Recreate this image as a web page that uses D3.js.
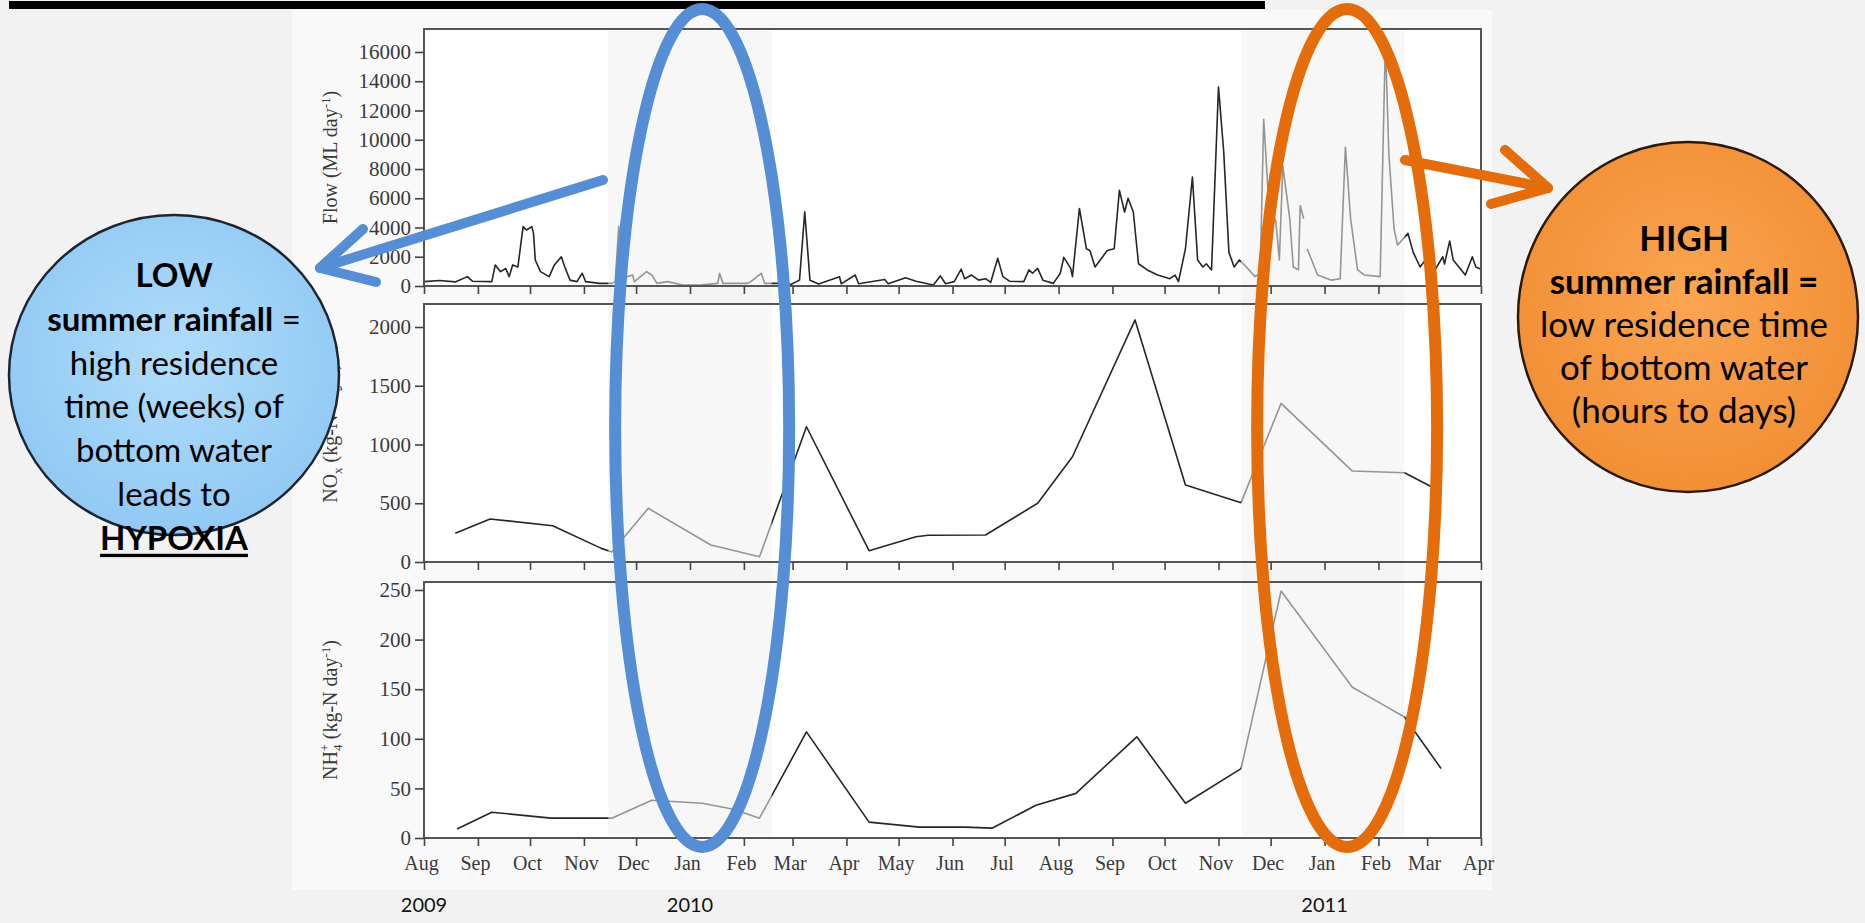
<!DOCTYPE html>
<html lang="en">
<head>
<meta charset="UTF-8">
<title>Flow, NOx and NH4 loads 2009-2011</title>
<script src="https://d3js.org/d3.v7.min.js"></script>
<style>
  body { margin: 0; background: #f3f3f3; overflow: hidden; }
  svg { display: block; }
</style>
</head>
<body>
<div id="chart"></div>
<script>
// values
var flowDates = ["2009-08-01","2009-08-10","2009-08-19","2009-08-26","2009-08-29","2009-09-09","2009-09-11","2009-09-14","2009-09-17","2009-09-19",
  "2009-09-21","2009-09-24","2009-09-27","2009-09-29","2009-10-02","2009-10-03","2009-10-04","2009-10-07","2009-10-12","2009-10-15",
  "2009-10-19","2009-10-21","2009-10-24","2009-10-28","2009-10-31","2009-11-02","2009-11-10","2009-11-17","2009-11-19","2009-11-21",
  "2009-11-23","2009-11-26","2009-11-29","2009-11-30","2009-12-07","2009-12-10","2009-12-13","2009-12-19","2009-12-28","2010-01-07",
  "2010-01-17","2010-01-18","2010-01-20","2010-02-03","2010-02-05","2010-02-11","2010-02-13","2010-02-20","2010-02-28","2010-03-05",
  "2010-03-08","2010-03-11","2010-03-16","2010-03-28","2010-03-29","2010-04-06","2010-04-08","2010-04-23","2010-04-25","2010-05-05",
  "2010-05-11","2010-05-21","2010-05-25","2010-05-28","2010-06-02","2010-06-06","2010-06-08","2010-06-12","2010-06-16","2010-06-20",
  "2010-06-23","2010-06-27","2010-06-30","2010-07-04","2010-07-12","2010-07-15","2010-07-17","2010-07-20","2010-07-23","2010-07-29",
  "2010-08-02","2010-08-04","2010-08-08","2010-08-09","2010-08-13","2010-08-17","2010-08-19","2010-08-22","2010-08-25","2010-08-29",
  "2010-09-02","2010-09-05","2010-09-08","2010-09-10","2010-09-13","2010-09-16","2010-09-21","2010-09-27","2010-10-04","2010-10-07",
  "2010-10-09","2010-10-13","2010-10-17","2010-10-20","2010-10-23","2010-10-25","2010-10-28","2010-11-01","2010-11-04","2010-11-07",
  "2010-11-10","2010-11-13","2010-11-17","2010-11-22","2010-11-25","2010-11-27","2010-11-30","2010-12-04","2010-12-06","2010-12-08",
  "2010-12-12","2010-12-14","2010-12-17","2010-12-18","2010-12-20","2010-12-21","2010-12-22","2010-12-28","2011-01-05","2011-01-10",
  "2011-01-13","2011-01-16","2011-01-20","2011-01-24","2011-02-02","2011-02-05","2011-02-07","2011-02-10","2011-02-12","2011-02-18",
  "2011-02-21","2011-02-25","2011-02-28","2011-03-05","2011-03-10","2011-03-11","2011-03-14","2011-03-16","2011-03-23","2011-03-27",
  "2011-03-29","2011-04-01"];
var flowValues = [300,380,280,640,320,300,1440,980,1200,640,
  1440,1300,4060,3830,4060,3600,1780,980,640,1440,
  2000,1300,400,300,870,300,180,180,300,4060,
  870,640,750,300,980,750,180,300,70,70,
  180,870,180,180,300,870,180,180,100,400,
  5080,400,130,640,150,750,150,450,150,560,
  320,70,690,150,300,1150,500,750,400,500,
  250,1900,640,320,300,1100,870,1200,400,180,
  870,1960,1200,640,5300,2550,2430,1300,1780,2430,
  2550,6540,5060,6000,5060,1520,1100,750,500,750,
  300,2550,7450,1780,1300,1520,1100,13600,9200,2300,
  1300,1780,1300,640,870,11400,5500,4400,1780,8200,
  4600,1300,1100,5500,4600,null,2550,750,400,500,
  9500,4600,1100,750,640,16700,9000,3900,2800,3600,
  2300,1300,1780,980,2000,1500,3080,1780,750,2000,
  1300,1150];

var noxDates = ["2009-08-19","2009-09-08","2009-10-14","2009-11-11","2009-11-17","2009-12-08","2010-01-13","2010-02-10","2010-03-09","2010-04-14",
  "2010-05-11","2010-05-18","2010-06-20","2010-07-20","2010-08-09","2010-09-14","2010-10-13","2010-11-14","2010-12-07","2011-01-17",
  "2011-02-16","2011-03-09"];
var noxValues = [244,366,309,116,85,457,145,45,1151,96,
  215,228,230,500,896,2060,655,505,1350,774,
  760,598];

var nh4Dates = ["2009-08-20","2009-09-09","2009-10-13","2009-11-02","2009-11-17","2009-12-10","2010-01-08","2010-01-26","2010-02-10","2010-03-09",
  "2010-04-14","2010-05-13","2010-06-08","2010-06-24","2010-07-19","2010-08-11","2010-09-15","2010-10-13","2010-11-14","2010-12-07",
  "2011-01-17","2011-02-02","2011-02-16","2011-03-09"];
var nh4Values = [9,26,20,20,20,38,35,29,20,107,
  16,11,11,10,33,45,102,35,70,249,
  152,136,122,70];

var flowTicks = [0,2000,4000,6000,8000,10000,12000,14000,16000];
var noxTicks = [0,500,1000,1500,2000];
var nh4Ticks = [0,50,100,150,200,250];

var yearLabels = ["2009","2010","2011"];
var yearDates = ["2009-08-01","2010-01-01","2011-01-01"];

var shadeStart = ["2009-11-15","2010-11-14"];
var shadeEnd = ["2010-02-17","2011-02-16"];

var lowLines = [[["LOW",1]],[["summer rainfall",1],[" =",0]],[["high residence",0]],[["time (weeks) of",0]],
  [["bottom water",0]],[["leads to",0]],[["HYPOXIA",2]]];
var highLines = [[["HIGH",1]],[["summer rainfall =",1]],[["low residence time",0]],[["of bottom water",0]],[["(hours to days)",0]]];

var W = 1865, H = 923;
var parse = d3.timeParse("%Y-%m-%d");
var serif = "'Liberation Serif', 'Times New Roman', serif";
var sans = "Lato, 'Open Sans', sans-serif";

var svg = d3.select("#chart").append("svg").attr("width", W).attr("height", H);
var defs = svg.append("defs");

function radial(id, inner, outer) {
    var g = defs.append("radialGradient").attr("id", id).attr("cx", "50%").attr("cy", "45%").attr("r", "60%");
    g.append("stop").attr("offset", "0%").attr("stop-color", inner);
    g.append("stop").attr("offset", "100%").attr("stop-color", outer);
}
radial("blueFill", "#b0dcfb", "#8ec8f3");
radial("orangeFill", "#fba552", "#f18d32");

// background and pasted figure
svg.append("rect").attr("width", W).attr("height", H).attr("fill", "#f2f2f2");
svg.append("rect").attr("x", 292).attr("y", 10).attr("width", 1200).attr("height", 880).attr("fill", "#f9f9f9");
svg.append("rect").attr("x", 9).attr("y", 1).attr("width", 1256).attr("height", 8).attr("fill", "#000");

var x = d3.scaleTime()
    .domain([new Date(2009, 7, 1), new Date(2011, 3, 1)])
    .range([424, 1481]);

var panels = [
    {top: 29, bottom: 286, y: d3.scaleLinear().domain([0, 16000]).range([286, 52]), ticks: flowTicks, dates: flowDates, values: flowValues},
    {top: 304, bottom: 562, y: d3.scaleLinear().domain([0, 2000]).range([562, 327]), ticks: noxTicks, dates: noxDates, values: noxValues},
    {top: 582, bottom: 838, y: d3.scaleLinear().domain([0, 250]).range([838, 590]), ticks: nh4Ticks, dates: nh4Dates, values: nh4Values}
];

panels.forEach(function(p, k) {
    svg.append("rect")
        .attr("x", x.range()[0]).attr("y", p.top)
        .attr("width", x.range()[1] - x.range()[0]).attr("height", p.bottom - p.top)
        .attr("fill", "#fff");

    var pts = p.dates.map(function(d, i) { return {date: parse(d), value: p.values[i]}; });
    var line = d3.line()
        .defined(function(d) { return d.value !== null; })
        .x(function(d) { return x(d.date); })
        .y(function(d) { return p.y(d.value); });
    svg.append("path")
        .datum(pts)
        .attr("d", line)
        .attr("fill", "none")
        .attr("stroke", "#262626")
        .attr("stroke-width", 1.6)
        .attr("stroke-linejoin", "round");
});

// light grey summer shading over the lines
shadeStart.forEach(function(s, i) {
    svg.append("rect")
        .attr("x", x(parse(s)))
        .attr("y", 31)
        .attr("width", x(parse(shadeEnd[i])) - x(parse(s)))
        .attr("height", 805)
        .attr("fill", "#f1f1f1")
        .attr("opacity", 0.55);
});

panels.forEach(function(p, k) {
    svg.append("rect")
        .attr("x", x.range()[0]).attr("y", p.top)
        .attr("width", x.range()[1] - x.range()[0]).attr("height", p.bottom - p.top)
        .attr("fill", "none").attr("stroke", "#555").attr("stroke-width", 2);

    var ax = svg.append("g")
        .attr("transform", "translate(0," + p.bottom + ")")
        .call(d3.axisBottom(x).ticks(d3.timeMonth.every(1)).tickSize(8)
            .tickFormat(k === 2 ? d3.timeFormat("%b") : ""));
    ax.select(".domain").remove();
    ax.selectAll("line").attr("stroke", "#444").attr("stroke-width", 1.6);
    ax.selectAll("text")
        .attr("font-family", serif).attr("font-size", 20).attr("fill", "#3a3a3a")
        .attr("dx", -3).attr("dy", "1.05em");

    var ay = svg.append("g")
        .attr("transform", "translate(" + x.range()[0] + ",0)")
        .call(d3.axisLeft(p.y).tickValues(p.ticks).tickFormat(d3.format("d")).tickSize(9).tickPadding(4));
    ay.select(".domain").remove();
    ay.selectAll("line").attr("stroke", "#444").attr("stroke-width", 1.6);
    ay.selectAll("text").attr("font-family", serif).attr("font-size", 21).attr("fill", "#3a3a3a");
});

// y-axis titles with sub/superscripts
var titles = [
    [["Flow (ML day", 0, 20], ["-1", -7, 13], [")", 7, 20]],
    [["NO", 0, 20], ["x", 5, 13], [" (kg-N day", -5, 20], ["-1", -7, 13], [")", 7, 20]],
    [["NH", 0, 20], ["4", 5, 13], ["+", -13, 13, -7], [" (kg-N day", 8, 20], ["-1", -7, 13], [")", 7, 20]]
];
titles.forEach(function(parts, k) {
    var p = panels[k];
    var t = svg.append("text")
        .attr("transform", "translate(337," + ((p.top + p.bottom) / 2) + ") rotate(-90)")
        .attr("text-anchor", "middle")
        .attr("font-family", serif).attr("fill", "#3a3a3a");
    parts.forEach(function(q) {
        t.append("tspan").text(q[0]).attr("dy", q[1]).attr("dx", q[3] || 0).attr("font-size", q[2]);
    });
});

svg.selectAll(".year")
    .data(yearLabels)
    .enter().append("text")
    .attr("class", "year")
    .attr("x", function(d, i) { return x(parse(yearDates[i])); })
    .attr("y", 912)
    .attr("text-anchor", "middle")
    .attr("font-family", sans).attr("font-size", 20).attr("fill", "#111")
    .text(function(d) { return d; });

// highlight ellipses
var ellipses = [
    {date: "2010-01-08", rx: 87, color: "#558ed5"},
    {date: "2011-01-14", rx: 90, color: "#e46c0a"}
];
ellipses.forEach(function(e) {
    svg.append("ellipse")
        .attr("cx", x(parse(e.date))).attr("cy", 428)
        .attr("rx", e.rx).attr("ry", 419)
        .attr("fill", "none").attr("stroke", e.color).attr("stroke-width", 12);
});

// bubbles
svg.append("ellipse").attr("cx", 174).attr("cy", 375).attr("rx", 165).attr("ry", 160)
    .attr("fill", "url(#blueFill)").attr("stroke", "#1d2630").attr("stroke-width", 2.5);
svg.append("ellipse").attr("cx", 1688).attr("cy", 317).attr("rx", 170).attr("ry", 175)
    .attr("fill", "url(#orangeFill)").attr("stroke", "#2a1a0c").attr("stroke-width", 2.5);

// arrows
function arrow(pts, color) {
    var g = svg.append("g").attr("stroke", color).attr("stroke-width", 10)
        .attr("stroke-linecap", "round").attr("fill", "none");
    g.append("line").attr("x1", pts[0][0]).attr("y1", pts[0][1]).attr("x2", pts[1][0]).attr("y2", pts[1][1]);
    g.append("polyline").attr("points", [pts[2], pts[1], pts[3]].map(function(q) { return q.join(","); }).join(" "))
        .attr("stroke-linejoin", "round");
}
arrow([[603, 180], [320, 268], [363, 229], [376, 282]], "#558ed5");
arrow([[1405, 160], [1548, 188], [1505, 150], [1491, 204]], "#e46c0a");

function bubbleText(lines, cx, cy0, step, size) {
    lines.forEach(function(segs, i) {
        var t = svg.append("text")
            .attr("x", cx).attr("y", cy0 + i * step)
            .attr("text-anchor", "middle").attr("dominant-baseline", "central")
            .attr("font-family", sans).attr("font-size", size).attr("fill", "#000");
        segs.forEach(function(s) {
            var sp = t.append("tspan").text(s[0]).attr("font-weight", s[1] ? 700 : 400);
            if (s[1] === 2) sp.attr("text-decoration", "underline");
        });
    });
}
bubbleText(lowLines, 174, 274, 43.8, 33);
bubbleText(highLines, 1684, 237, 43, 35);
</script>
</body>
</html>
